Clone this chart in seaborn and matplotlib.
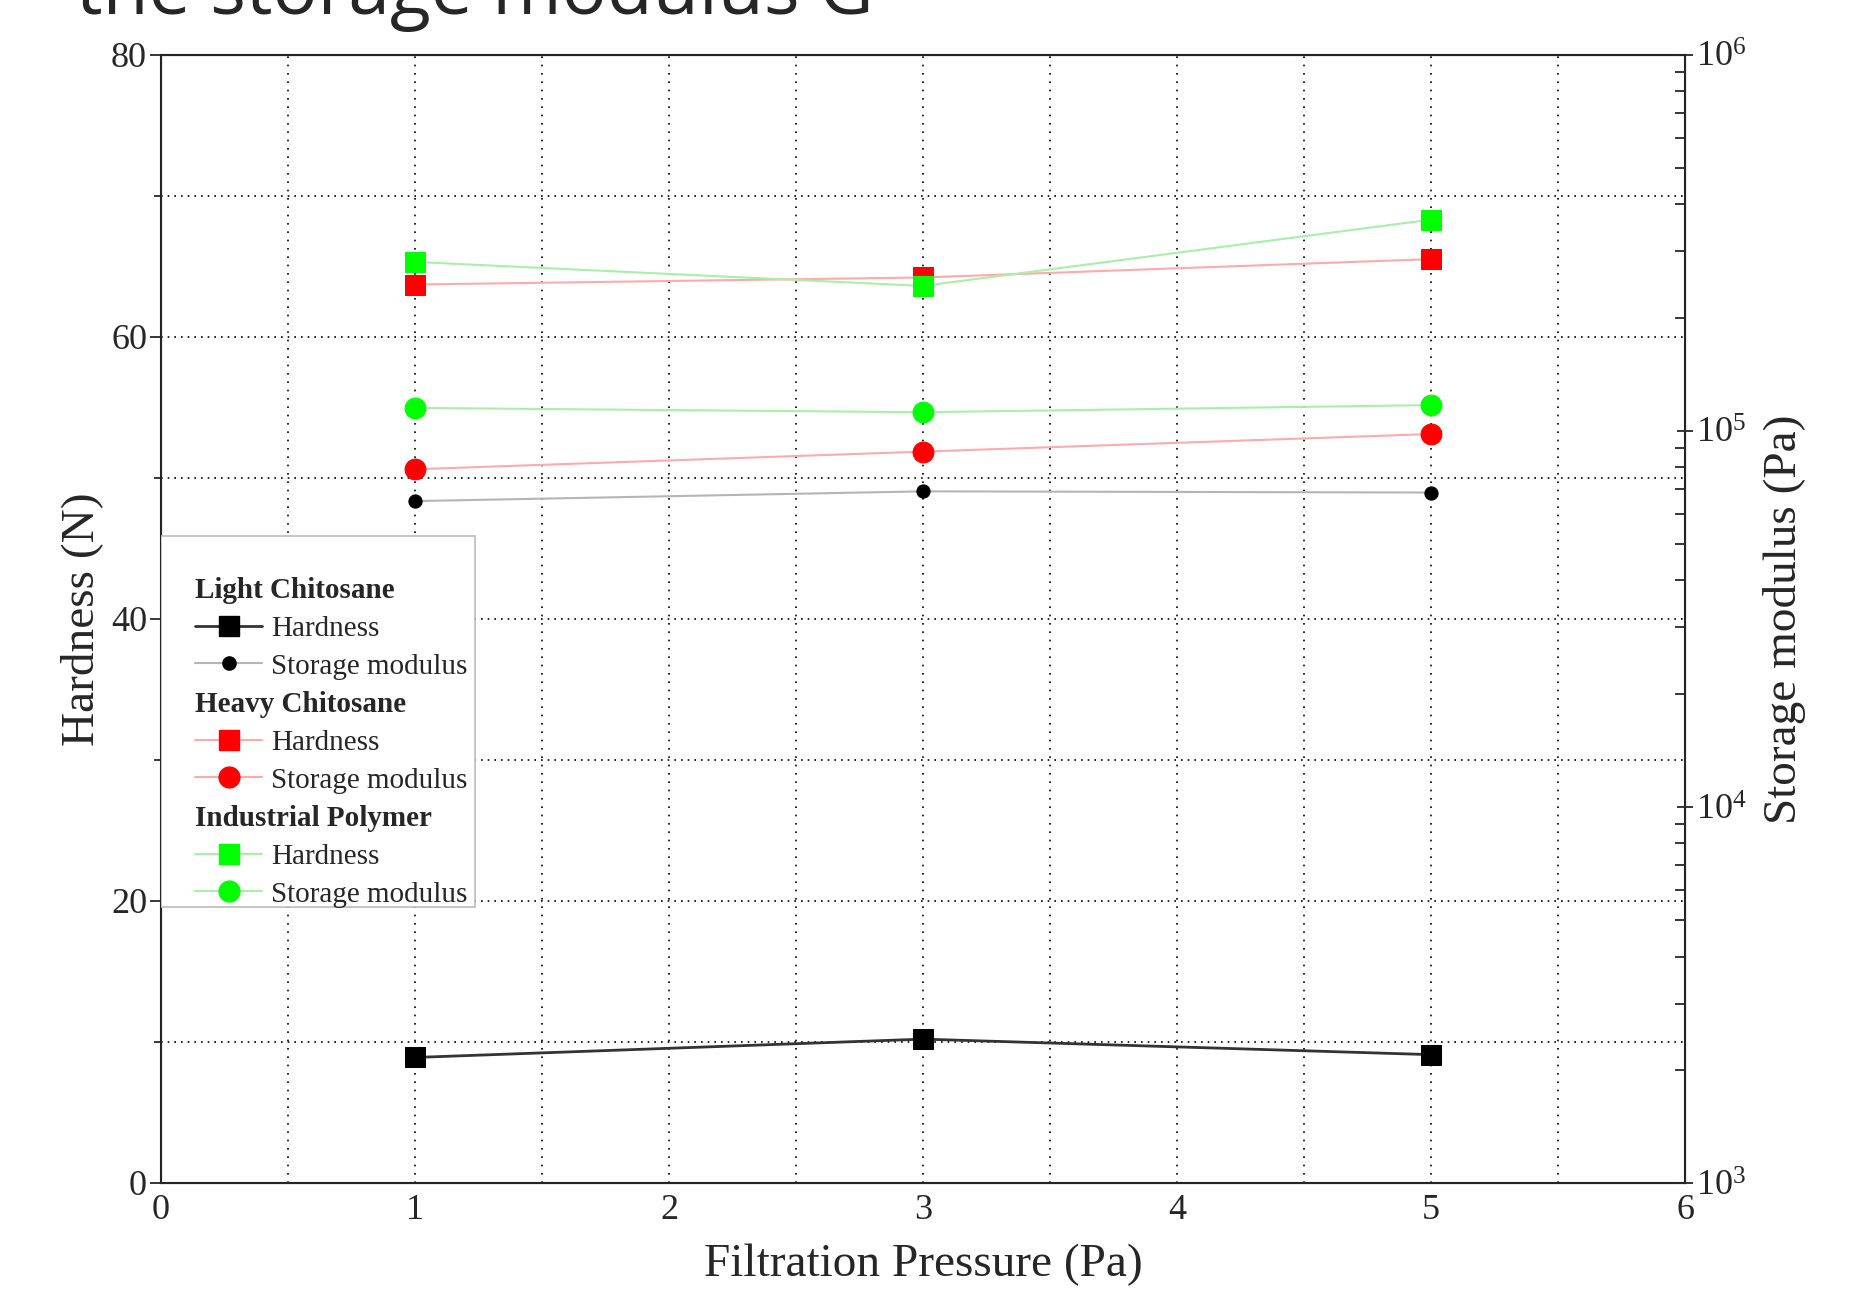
import matplotlib
matplotlib.use('Agg')
import matplotlib.pyplot as plt
from matplotlib.lines import Line2D
from matplotlib.patches import Rectangle
from matplotlib.ticker import MultipleLocator, LogLocator, NullFormatter
import numpy as np
import pandas as pd
import seaborn as sns

# Data
pressure = [1, 3, 5]
light_hardness = [8.9, 10.2, 9.1]
heavy_hardness = [63.7, 64.2, 65.5]
indus_hardness = [65.3, 63.6, 68.3]
light_modulus = [6.5e4, 6.9e4, 6.85e4]
heavy_modulus = [7.9e4, 8.8e4, 9.8e4]
indus_modulus = [1.15e5, 1.12e5, 1.17e5]

groups = ["Light Chitosane", "Heavy Chitosane", "Industrial Polymer"]

df_h = pd.DataFrame({
    "pressure": pressure * 3,
    "value": light_hardness + heavy_hardness + indus_hardness,
    "group": np.repeat(groups, 3),
})
df_g = pd.DataFrame({
    "pressure": pressure * 3,
    "value": light_modulus + heavy_modulus + indus_modulus,
    "group": np.repeat(groups, 3),
})

sns.set_style("white")
plt.rcParams['font.family'] = ['Liberation Serif', 'DejaVu Serif']
plt.rcParams['mathtext.fontset'] = 'stix'

# line/marker styles per group
style = {
    "Light Chitosane": dict(hline="#333333", mc="black", hlw=2.0, sq=14, ci=9.5, gline="#b5b5b5"),
    "Heavy Chitosane": dict(hline="#ffaaaa", mc="red", hlw=1.5, sq=14, ci=15, gline="#ffaaaa"),
    "Industrial Polymer": dict(hline="#a8f0a8", mc="#00ff00", hlw=1.5, sq=14, ci=15, gline="#a8f0a8"),
}

fig = plt.figure(figsize=(18.57, 12.97), dpi=100)
ax = fig.add_axes([0.0867, 0.0879, 0.8207, 0.870])
ax2 = ax.twinx()

for g in groups:
    s = style[g]
    sns.lineplot(data=df_h[df_h.group == g], x="pressure", y="value", ax=ax,
                 color=s["hline"], lw=s["hlw"], marker="s", markersize=s["sq"],
                 markerfacecolor=s["mc"], markeredgecolor=s["mc"], zorder=3)
    sns.lineplot(data=df_g[df_g.group == g], x="pressure", y="value", ax=ax2,
                 color=s["gline"], lw=1.5, marker="o", markersize=s["ci"],
                 markerfacecolor=s["mc"], markeredgecolor=s["mc"], zorder=3)

ax.set_xlim(0, 6)
ax.set_ylim(0, 80)
ax2.set_yscale("log")
ax2.set_ylim(1e3, 1e6)

ax.xaxis.set_major_locator(MultipleLocator(1))
ax.xaxis.set_minor_locator(MultipleLocator(0.5))
ax.yaxis.set_major_locator(MultipleLocator(20))
ax.yaxis.set_minor_locator(MultipleLocator(10))
ax2.yaxis.set_major_locator(LogLocator(base=10))
ax2.yaxis.set_minor_locator(LogLocator(base=10, subs=np.arange(2, 10)))
ax2.yaxis.set_minor_formatter(NullFormatter())

ax.grid(True, which="both", axis="x", linestyle=(0, (1, 4)), color="black", lw=1.2)
ax.grid(True, which="both", axis="y", linestyle=(0, (1, 3)), color="black", lw=1.2)

for s in ax.spines.values():
    s.set_linewidth(1.5)
    s.set_color("#222222")
ax.tick_params(axis="x", which="major", direction="inout", length=12, width=1.3, labelsize=26, pad=2)
ax.tick_params(axis="x", which="minor", direction="inout", length=7, width=1.3)
ax.tick_params(axis="y", which="major", direction="out", length=8, width=1.3, labelsize=26, pad=2)
ax.tick_params(axis="y", which="minor", direction="out", length=5, width=1.3)
ax2.tick_params(axis="y", which="major", direction="inout", length=12, width=1.3, labelsize=26, pad=2)
ax2.tick_params(axis="y", which="minor", direction="in", length=7, width=1.3)

ax.set_xlabel("Filtration Pressure (Pa)", fontsize=34, labelpad=12)
ax.set_ylabel("Hardness (N)", fontsize=34, labelpad=6)
ax2.set_ylabel("Storage modulus (Pa)", fontsize=34, labelpad=12)

# legend box drawn separately, entries placed inside it
ax2.add_patch(Rectangle((0, 0.2445), 0.206, 0.3285, transform=ax2.transAxes,
                        facecolor="white", edgecolor="#bbbbbb", lw=1.2, zorder=4))

handles, labels = [], []
for g in groups:
    s = style[g]
    handles.append(Line2D([], [], alpha=0))
    labels.append(g)
    handles.append(Line2D([], [], color=s["hline"], lw=s["hlw"], marker="s", markersize=s["sq"],
                          markerfacecolor=s["mc"], markeredgecolor=s["mc"]))
    labels.append("Hardness")
    handles.append(Line2D([], [], color=s["gline"], lw=1.5, marker="o", markersize=s["ci"],
                          markerfacecolor=s["mc"], markeredgecolor=s["mc"]))
    labels.append("Storage modulus")

leg = ax2.legend(handles, labels, loc="upper left", bbox_to_anchor=(0.0225, 0.537),
                 fontsize=21, frameon=False, handlelength=2.3, handletextpad=0.3,
                 labelspacing=0.39, borderpad=0, borderaxespad=0)
leg.set_zorder(5)
for col in leg._legend_handle_box.get_children():
    for row in col.get_children():
        da, ta = row.get_children()
        if ta._text.get_text() in groups:
            ta._text.set_fontweight("bold")
            da.width = 0
            row.sep = 0

fig.text(0.041, 1 - 14 / 1297, "the storage modulus G", fontsize=54,
         family="Open Sans", va="baseline", ha="left")

fig.savefig("out.png", dpi=100)
